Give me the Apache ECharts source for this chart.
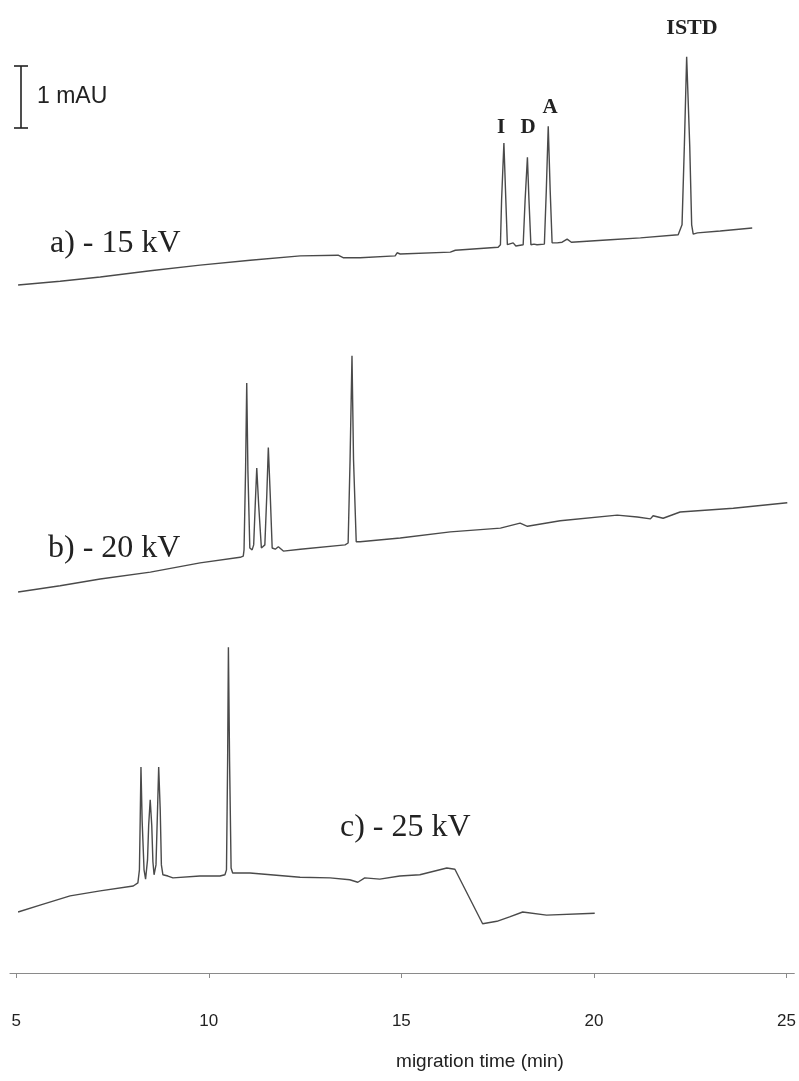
<!DOCTYPE html>
<html>
<head>
<meta charset="utf-8">
<title>Electropherograms at three separation voltages</title>
<script src="https://cdn.jsdelivr.net/npm/echarts@6/dist/echarts.min.js"></script>
<style>
  html, body { margin: 0; padding: 0; background: #ffffff; }
  #chart { width: 799px; height: 1081px; }
</style>
</head>
<body>
<div id="chart"></div>
<script>
// Migration time (min) vs absorbance (mAU, relative to the start of each run)

// a) -15 kV
const traceA = [
  [5.05, 0.00], [6.14, 0.06], [7.18, 0.13], [8.48, 0.23], [9.77, 0.32],
  [11.07, 0.40], [12.37, 0.47], [13.35, 0.48], [13.48, 0.44], [13.92, 0.44],
  [14.83, 0.47], [14.88, 0.52], [14.96, 0.50], [16.26, 0.53], [16.39, 0.56],
  [17.50, 0.61],
  // I
  [17.56, 0.65], [17.59, 1.37], [17.65, 2.29], [17.70, 1.37], [17.74, 0.65],
  [17.89, 0.68], [17.96, 0.63],
  // D
  [18.15, 0.65], [18.20, 1.37], [18.26, 2.06], [18.30, 1.37], [18.35, 0.65],
  [18.43, 0.66], [18.51, 0.65],
  // A
  [18.70, 0.66], [18.75, 1.53], [18.80, 2.56], [18.85, 1.53], [18.90, 0.68],
  [19.03, 0.68], [19.16, 0.69], [19.29, 0.74], [19.40, 0.69], [20.41, 0.73],
  [21.19, 0.76], [22.17, 0.81],
  // ISTD
  [22.22, 0.81], [22.27, 0.97], [22.33, 2.24], [22.39, 3.68], [22.47, 2.24],
  [22.52, 0.97], [22.56, 0.82],
  [22.67, 0.84], [23.26, 0.87], [24.09, 0.92]
];

// b) -20 kV
const traceB = [
  [5.05, 0.00], [6.14, 0.10], [7.18, 0.21], [8.48, 0.32], [9.77, 0.47],
  [10.81, 0.56], [10.89, 0.58],
  [10.91, 0.68], [10.95, 1.97], [10.98, 3.37], [11.01, 1.97], [11.06, 0.71],
  [11.12, 0.68],
  [11.16, 0.76], [11.20, 1.40], [11.24, 2.00], [11.29, 1.40], [11.36, 0.71],
  [11.38, 0.68],
  [11.45, 0.76], [11.50, 1.56], [11.54, 2.33], [11.59, 1.56], [11.64, 0.71],
  [11.72, 0.69], [11.80, 0.73], [11.93, 0.66], [12.37, 0.69], [13.53, 0.76],
  [13.61, 0.79], [13.66, 2.13], [13.71, 3.81], [13.75, 2.13], [13.82, 0.81],
  [13.92, 0.81], [14.96, 0.87], [16.26, 0.97], [17.56, 1.03], [18.07, 1.11],
  [18.26, 1.06], [19.11, 1.15], [20.59, 1.24], [21.11, 1.21], [21.45, 1.18],
  [21.52, 1.23], [21.78, 1.19], [22.22, 1.29], [23.60, 1.35], [25.00, 1.44]
];

// c) -25 kV
const traceC = [
  [5.05, 0.00], [5.62, 0.11], [6.40, 0.26], [7.18, 0.34], [8.04, 0.42],
  [8.16, 0.47],
  [8.20, 0.68], [8.22, 1.48], [8.24, 2.34], [8.27, 1.48], [8.32, 0.68],
  [8.36, 0.53],
  [8.41, 0.84], [8.44, 1.40], [8.48, 1.81], [8.52, 1.40], [8.55, 0.81],
  [8.58, 0.60],
  [8.63, 0.76], [8.67, 1.65], [8.70, 2.34], [8.74, 1.65], [8.77, 0.76],
  [8.81, 0.60],
  [8.94, 0.58], [9.07, 0.55], [9.77, 0.58], [10.29, 0.58], [10.42, 0.60],
  [10.46, 0.68], [10.49, 2.45], [10.51, 4.27], [10.54, 2.45], [10.58, 0.71],
  [10.62, 0.63],
  [11.07, 0.63], [12.37, 0.56], [13.15, 0.55], [13.66, 0.52], [13.87, 0.48],
  [14.05, 0.55], [14.44, 0.53], [14.96, 0.58], [15.48, 0.60], [16.18, 0.71],
  [16.39, 0.69], [17.11, -0.19], [17.48, -0.15], [17.81, -0.08], [18.15, 0.00],
  [18.77, -0.05], [20.02, -0.02]
];

const timeTicks = [5, 10, 15, 20, 25];
const runLabels = ['a) - 15 kV', 'b) - 20 kV', 'c) - 25 kV'];
const peakLabels = ['I', 'D', 'A', 'ISTD'];
const axisTitle = 'migration time (min)';
const scaleLabel = '1 mAU';

// layout: each panel shares one vertical scale (px per mAU)
const PX_PER_MAU = 62;
const H = 1081;
const panels = [
  { top: 40,  bottom: 300, base: 285, data: traceA },
  { top: 320, bottom: 610, base: 592, data: traceB },
  { top: 620, bottom: 973, base: 912, data: traceC }
];
const X_MIN = 4.84, X_MAX = 25.2;

const serif = '"Liberation Serif", "DejaVu Serif", serif';
const sans = '"Liberation Sans", Arial, sans-serif';
const ink = '#222222';
const traceColor = '#4a4a4a';

const grids = panels.map(p => ({
  left: 10, right: 4, top: p.top, bottom: H - p.bottom
}));

const xAxes = panels.map((p, i) => {
  const last = i === panels.length - 1;
  return {
    type: 'value', gridIndex: i, min: X_MIN, max: X_MAX,
    show: last, position: 'bottom',
    axisLine: { show: last, onZero: false, lineStyle: { color: '#8a8a8a', width: 1.2 } },
    axisTick: { show: last, customValues: timeTicks, length: 5, inside: false,
                lineStyle: { color: '#8a8a8a', width: 1 } },
    axisLabel: { show: last, customValues: timeTicks, margin: 40,
                 color: ink, fontFamily: sans, fontSize: 17 },
    splitLine: { show: false }
  };
});

const yAxes = panels.map((p, i) => ({
  type: 'value', gridIndex: i, show: false,
  min: -(p.bottom - p.base) / PX_PER_MAU,
  max: (p.base - p.top) / PX_PER_MAU,
  splitLine: { show: false }
}));

const series = panels.map((p, i) => ({
  type: 'line', xAxisIndex: i, yAxisIndex: i, data: p.data,
  showSymbol: false, symbol: 'none', clip: false,
  lineStyle: { color: traceColor, width: 1.4 }
}));

function txt(x, y, text, font, size, weight, align) {
  return {
    type: 'text', x: x, y: y,
    style: { text: text, fontFamily: font, fontSize: size, fontWeight: weight || 'normal',
             fill: ink, align: align || 'left', verticalAlign: 'middle' }
  };
}

const graphic = [
  // 1 mAU scale bar
  { type: 'line', shape: { x1: 21, y1: 66, x2: 21, y2: 128 }, style: { stroke: ink, lineWidth: 1.6 } },
  { type: 'line', shape: { x1: 14, y1: 66, x2: 28, y2: 66 }, style: { stroke: ink, lineWidth: 1.6 } },
  { type: 'line', shape: { x1: 14, y1: 128, x2: 28, y2: 128 }, style: { stroke: ink, lineWidth: 1.6 } },
  txt(37, 97, scaleLabel, sans, 23),
  // run labels
  txt(50, 244, runLabels[0], serif, 32),
  txt(48, 549, runLabels[1], serif, 32),
  txt(340, 828, runLabels[2], serif, 32),
  // peak labels
  txt(501, 128, peakLabels[0], serif, 21, 'bold', 'center'),
  txt(528, 128, peakLabels[1], serif, 21, 'bold', 'center'),
  txt(550, 108, peakLabels[2], serif, 21, 'bold', 'center'),
  txt(692, 28, peakLabels[3], serif, 22, 'bold', 'center'),
  // axis title
  txt(480, 1062, axisTitle, sans, 19, 'normal', 'center')
];

const chart = echarts.init(document.getElementById('chart'), null, { renderer: 'canvas' });
chart.setOption({
  animation: false,
  backgroundColor: '#ffffff',
  grid: grids,
  xAxis: xAxes,
  yAxis: yAxes,
  series: series,
  graphic: graphic
});
</script>
</body>
</html>
